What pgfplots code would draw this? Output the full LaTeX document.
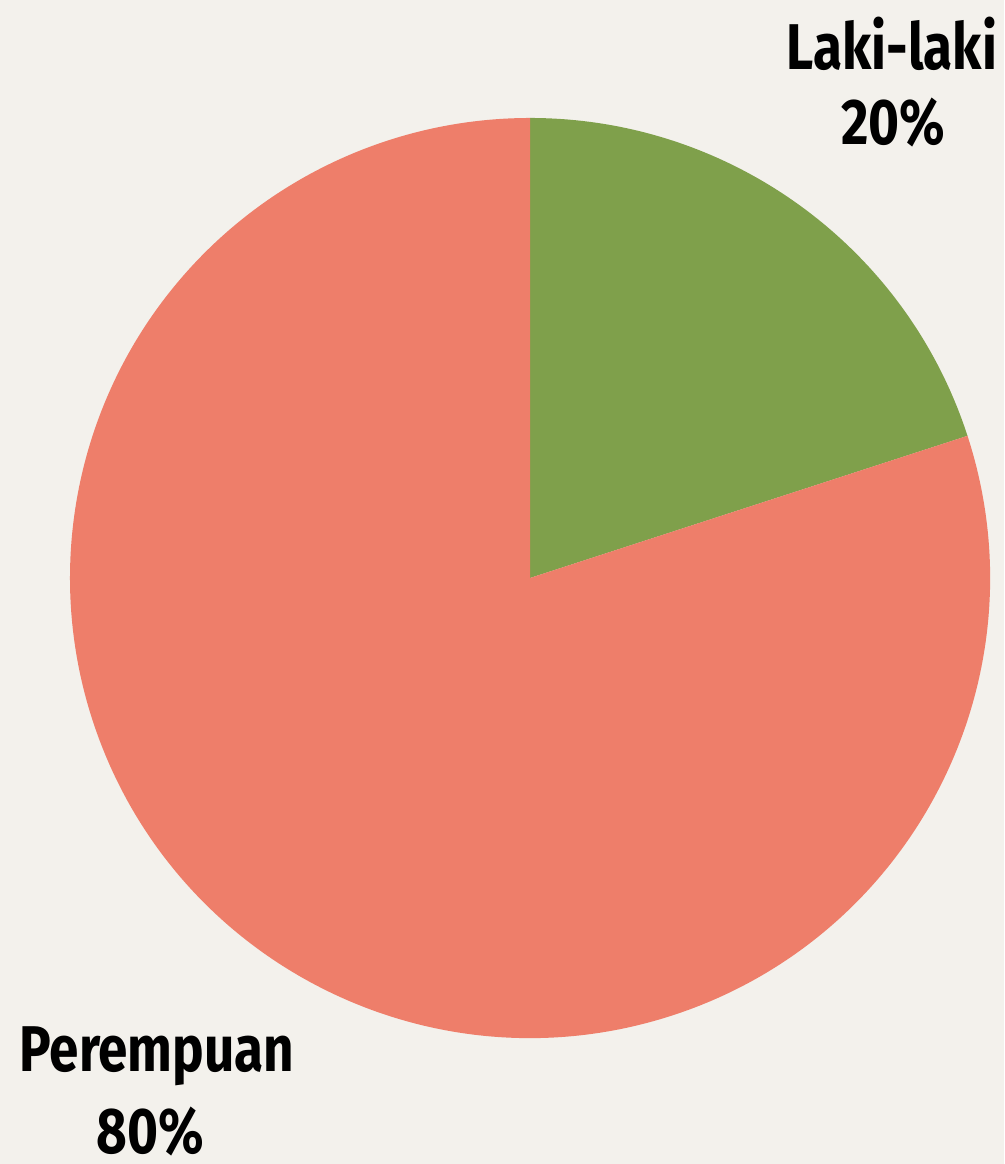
\documentclass[border=0pt]{standalone}
\usepackage{pgfplots}
\usepackage{pgfplotstable}
\pgfplotsset{compat=1.18}
\usepackage{fontspec}
\setmainfont{Fira Sans}[UprightFont=* Bold, FakeStretch=0.82]
\definecolor{bgpaper}{HTML}{F3F1EC}
\definecolor{salmon}{HTML}{EE7E6A}
\definecolor{olive}{HTML}{7FA04B}
\pgfplotstableread{
label value
Laki-laki 20
Perempuan 80
}\piedata
\begin{document}%
\begin{tikzpicture}%
\pgfplotstablegetelem{0}{value}\of\piedata\let\vA\pgfplotsretval%
\pgfplotstablegetelem{1}{value}\of\piedata\let\vB\pgfplotsretval%
\begin{axis}[
  name=pie,
  x=0.25mm, y=0.25mm,
  xmin=0, xmax=1004, ymin=0, ymax=1164,
  hide axis, clip=false, scale only axis,
]
\fill[bgpaper] (axis cs:0,0) rectangle (axis cs:1004,1164);
\pgfmathsetmacro{\aEnd}{90-3.6*\vA}
\pgfmathsetmacro{\bEnd}{\aEnd-3.6*\vB}
\fill[olive] (axis cs:530,586) -- ++(90:115mm) arc[start angle=90, end angle=\aEnd, radius=115mm] -- cycle;
\fill[salmon] (axis cs:530,586) -- ++(\aEnd:115mm) arc[start angle=\aEnd, end angle=\bEnd, radius=115mm] -- cycle;
\begin{scope}[every node/.style={inner sep=0pt, anchor=base, font=\fontsize{46}{50}\selectfont}]
\node at (axis cs:892,1094) {Laki-laki};
\node at (axis cs:893,1019) {\vA\%};
\node at (axis cs:157,92) {Perempuan};
\node at (axis cs:150,11) {\vB\%};
\end{scope}
\end{axis}
\pgfresetboundingbox
\useasboundingbox (pie.south west) rectangle (pie.north east);
\end{tikzpicture}%
\end{document}
